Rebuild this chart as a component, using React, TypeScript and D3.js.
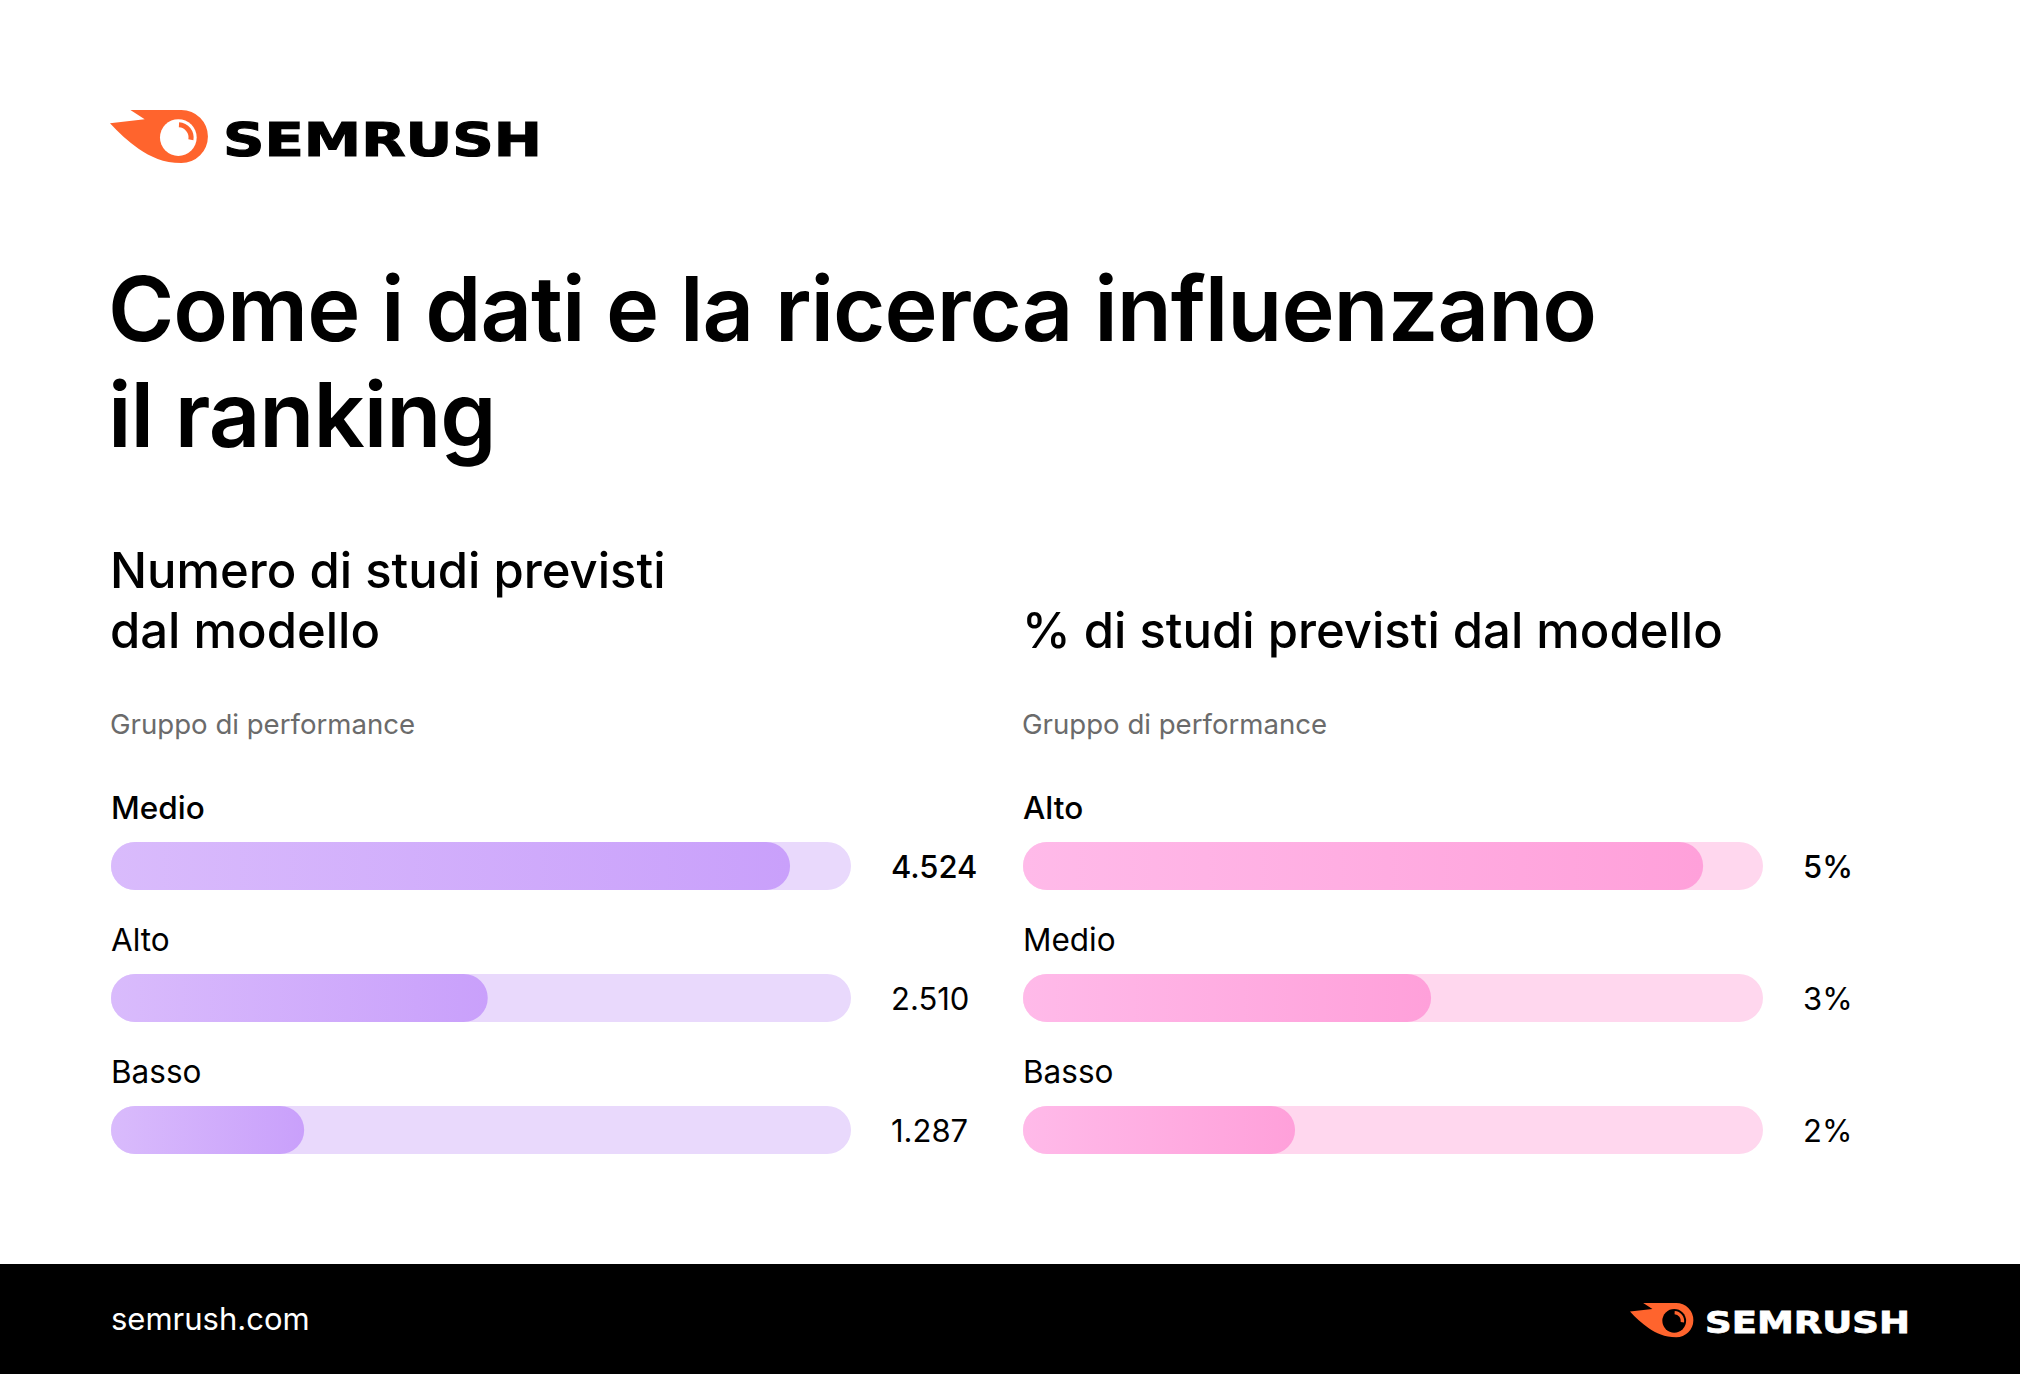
import React from "react";
import * as d3 from "d3";

const W = 2020;
const H = 1374;

const titleLines = ["Come i dati e la ricerca influenzano", "il ranking"];
const leftTitle = ["Numero di studi previsti", "dal modello"];
const rightTitle = ["% di studi previsti dal modello"];
const groupLabel = "Gruppo di performance";

const leftCategories = ["Medio", "Alto", "Basso"];
const leftValues = [4524, 2510, 1287];
const leftLabels = ["4.524", "2.510", "1.287"];
const leftMax = 4930;

const rightCategories = ["Alto", "Medio", "Basso"];
const rightValues = [5, 3, 2];
const rightLabels = ["5%", "3%", "2%"];
const rightMax = 5.44;

const FONT = "Inter, 'Noto Sans', sans-serif";
const ORANGE = "#FF642D";

function Logo({
  fx,
  fy,
  s,
  tx,
  ty,
  tSize,
  tLen,
  textColor,
  inner,
}: {
  fx: number;
  fy: number;
  s: number;
  tx: number;
  ty: number;
  tSize: number;
  tLen: number;
  textColor: string;
  inner: string;
}) {
  const hl = d3.arc()({ innerRadius: 10, outerRadius: 15, startAngle: 0.05, endAngle: 1.75 } as any) || "";
  return (
    <g>
      <g transform={`translate(${fx},${fy}) scale(${s})`}>
        <path
          d="M20,0 L70,0 A26,26 0 1 1 70,52 C52,52 40,46 28,38 C18,31 8,22 0,13 L34,9 Z"
          fill={ORANGE}
        />
        <circle cx={67} cy={27} r={18} fill={inner} />
        <path d={hl} transform="translate(67,27)" fill={ORANGE} />
      </g>
      <text
        x={tx}
        y={ty}
        fontFamily="'DejaVu Sans', Inter, sans-serif"
        fontWeight={700}
        fontSize={tSize}
        fill={textColor}
        stroke={textColor}
        strokeWidth={tSize / 40}
        textLength={tLen}
        lengthAdjust="spacingAndGlyphs"
      >
        SEMRUSH
      </text>
    </g>
  );
}

function BarChart({
  x0,
  categories,
  values,
  labels,
  max,
  track,
  c0,
  c1,
  id,
}: {
  x0: number;
  categories: string[];
  values: number[];
  labels: string[];
  max: number;
  track: string;
  c0: string;
  c1: string;
  id: string;
}) {
  const trackW = 740;
  const x = d3.scaleLinear().domain([0, max]).range([x0, x0 + trackW]);
  const y = d3.scaleBand().domain(categories).range([793, 1189]).paddingInner(0).paddingOuter(0);
  const barH = 48;
  return (
    <g>
      <defs>
        <linearGradient id={id} x1="0" x2="1" y1="0" y2="0">
          <stop offset="0%" stopColor={c0} />
          <stop offset="100%" stopColor={c1} />
        </linearGradient>
      </defs>
      {categories.map((c, i) => {
        const top = (y(c) as number) + 49;
        const bold = i === 0;
        return (
          <g key={c}>
            <text x={x0} y={top - 23} fontFamily={FONT} fontSize={31.5} fontWeight={bold ? 500 : 400} fill="#000">
              {c}
            </text>
            <rect x={x(0)} y={top} width={x(max) - x(0)} height={barH} rx={barH / 2} fill={track} />
            <rect x={x(0)} y={top} width={x(values[i]) - x(0)} height={barH} rx={barH / 2} fill={`url(#${id})`} />
            <text
              x={x0 + trackW + 40}
              y={top + 36}
              fontFamily={FONT}
              fontSize={31}
              fontWeight={bold ? 500 : 400}
              fill="#000"
            >
              {labels[i]}
            </text>
          </g>
        );
      })}
    </g>
  );
}

export default function App() {
  return (
    <svg width={W} height={H} style={{ position: "absolute", left: 0, top: 0, background: "#fff" }}>
      <rect x={0} y={0} width={W} height={H} fill="#fff" />
      <Logo fx={110} fy={110} s={1.02} tx={223} ty={156} tSize={47} tLen={319} textColor="#000" inner="#fff" />
      {titleLines.map((t, i) => (
        <text key={t} x={108} y={341 + i * 106} fontFamily={FONT} fontWeight={600} fontSize={90} letterSpacing={-1} fill="#000">
          {t}
        </text>
      ))}
      {leftTitle.map((t, i) => (
        <text key={t} x={110} y={588 + i * 60} fontFamily={FONT} fontWeight={500} fontSize={49} fill="#000">
          {t}
        </text>
      ))}
      {rightTitle.map((t) => (
        <text key={t} x={1022} y={648} fontFamily={FONT} fontWeight={500} fontSize={49} fill="#000">
          {t}
        </text>
      ))}
      <text x={110} y={734} fontFamily={FONT} fontSize={27.6} fill="#6b6b6b">
        {groupLabel}
      </text>
      <text x={1022} y={734} fontFamily={FONT} fontSize={27.6} fill="#6b6b6b">
        {groupLabel}
      </text>
      <BarChart
        x0={111}
        categories={leftCategories}
        values={leftValues}
        labels={leftLabels}
        max={leftMax}
        track="#E9D9FC"
        c0="#D9BBFC"
        c1="#C9A0FB"
        id="gradL"
      />
      <BarChart
        x0={1023}
        categories={rightCategories}
        values={rightValues}
        labels={rightLabels}
        max={rightMax}
        track="#FFD7EE"
        c0="#FFBAE9"
        c1="#FFA0DA"
        id="gradR"
      />
      <rect x={0} y={1264} width={W} height={H - 1264} fill="#000" />
      <text x={111} y={1330} fontFamily={FONT} fontSize={31} fill="#fff">
        semrush.com
      </text>
      <Logo fx={1630} fy={1303} s={0.66} tx={1705} ty={1333} tSize={31} tLen={205} textColor="#fff" inner="#000" />
    </svg>
  );
}
